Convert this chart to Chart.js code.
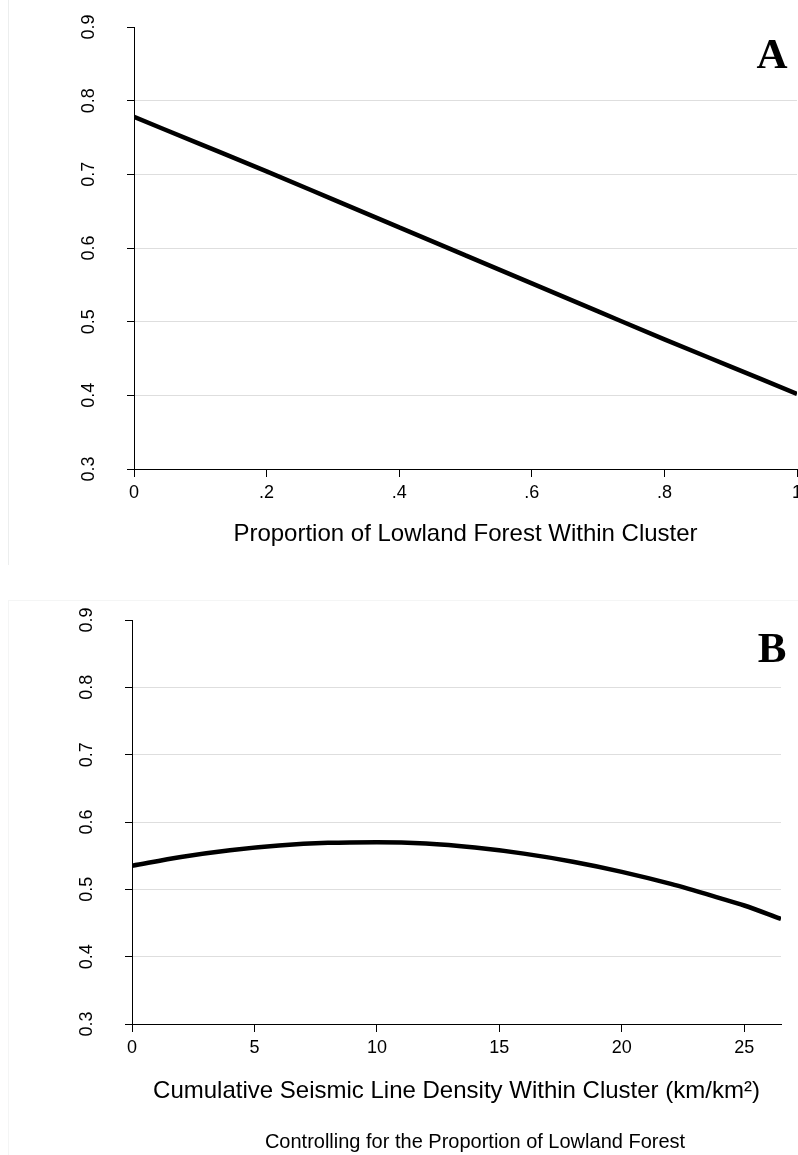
<!DOCTYPE html>
<html>
<head>
<meta charset="utf-8">
<script src="https://cdn.jsdelivr.net/npm/chart.js@4.4.0/dist/chart.umd.min.js"></script>
<style>
    body { margin: 0; background: #fff; width: 798px; height: 1155px; position: relative; overflow: hidden; }
    .frame { position: absolute; left: 8px; width: 789px; }
    #frameA { top: 0; height: 565px; border-left: 1px solid #eceeee; }
    #frameB { top: 600px; height: 555px; border-left: 1px solid #f4f5f5; border-top: 1px solid #f4f5f5; }
    canvas { position: absolute; left: 0; }
    #chartA { top: 0; }
    #chartB { top: 595px; }
</style>
</head>
<body>
<div class="frame" id="frameA"></div>
<div class="frame" id="frameB"></div>
<canvas id="chartA" width="798" height="570"></canvas>
<canvas id="chartB" width="798" height="560"></canvas>
<script>
// Panel A: proportion of lowland forest
const xA = [0, 0.1, 0.2, 0.3, 0.4, 0.5, 0.6, 0.7, 0.8, 0.9, 1];
const yA = [0.778, 0.741, 0.704, 0.666, 0.628, 0.590, 0.552, 0.514, 0.476, 0.439, 0.402];
const xTicksA = [0, 0.2, 0.4, 0.6, 0.8, 1];
const xTickLabelsA = ['0', '.2', '.4', '.6', '.8', '1'];

// Panel B: seismic line density
const xB = [0, 2, 4, 6, 8, 10, 12, 14, 16, 18, 20, 22, 24, 25, 26.5];
const yB = [0.535, 0.548, 0.558, 0.565, 0.569, 0.570, 0.568, 0.562, 0.553, 0.541, 0.526, 0.508, 0.487, 0.476, 0.456];
const xTicksB = [0, 5, 10, 15, 20, 25];
const xTickLabelsB = ['0', '5', '10', '15', '20', '25'];

// shared y axis
const yTicks = [0.3, 0.4, 0.5, 0.6, 0.7, 0.8, 0.9];
const yTickLabels = ['0.3', '0.4', '0.5', '0.6', '0.7', '0.8', '0.9'];

const SANS = "'Liberation Sans', Arial, sans-serif";

// rotated y tick labels, panel letter and optional note under the axis title
const panelPlugin = {
    id: 'panelLabel',
    afterDraw(chart, args, opts) {
        const ctx = chart.ctx;
        const y = chart.scales.y;
        ctx.save();
        ctx.fillStyle = '#000';
        ctx.font = '18px ' + SANS;
        ctx.textAlign = 'center';
        ctx.textBaseline = 'middle';
        yTicks.forEach((v, i) => {
            ctx.save();
            ctx.translate(y.right - 45, y.getPixelForValue(v));
            ctx.rotate(-Math.PI / 2);
            ctx.fillText(yTickLabels[i], 0, 0);
            ctx.restore();
        });
        if (opts.note) {
            ctx.font = '20px ' + SANS;
            ctx.fillText(opts.note, opts.noteX, opts.noteY);
        }
        ctx.font = "bold 43px 'Liberation Serif', 'Times New Roman', serif";
        ctx.fillText(opts.text, opts.x, opts.y);
        ctx.restore();
    }
};

function makeChart(id, xs, ys, xTicks, xLabels, cfg) {
    return new Chart(document.getElementById(id), {
        type: 'line',
        data: {
            datasets: [{
                data: xs.map((x, i) => ({ x: x, y: ys[i] })),
                borderColor: '#000',
                borderWidth: 4.5,
                pointRadius: 0,
                cubicInterpolationMode: 'monotone',
                fill: false
            }]
        },
        options: {
            responsive: false,
            animation: false,
            layout: { padding: { top: cfg.top, right: cfg.right, left: 0, bottom: cfg.bottom } },
            plugins: {
                legend: { display: false },
                tooltip: { enabled: false },
                title: { display: false },
                panelLabel: {
                    text: cfg.letter, x: 772, y: cfg.letterY,
                    note: cfg.note, noteX: 475, noteY: 547
                }
            },
            scales: {
                x: {
                    type: 'linear',
                    min: xTicks[0],
                    max: cfg.xMax,
                    afterBuildTicks: s => { s.ticks = xTicks.map(v => ({ value: v })); },
                    afterFit: s => { s.height = cfg.xHeight; s.paddingLeft = 0; s.paddingRight = 0; },
                    grid: { drawOnChartArea: false, tickLength: 8, tickColor: '#000' },
                    border: { display: true, color: '#000', width: 1 },
                    ticks: {
                        autoSkip: false,
                        maxRotation: 0,
                        padding: 5,
                        color: '#000',
                        font: { family: SANS, size: 18 },
                        callback: (v, i) => xLabels[i]
                    },
                    title: {
                        display: true,
                        text: cfg.xTitle,
                        color: '#000',
                        font: { family: SANS, size: 24 },
                        padding: { top: 0, bottom: cfg.titlePad }
                    }
                },
                y: {
                    min: 0.3,
                    max: 0.9,
                    afterBuildTicks: s => { s.ticks = yTicks.map(v => ({ value: v })); },
                    afterFit: s => { s.width = cfg.yWidth; s.paddingTop = 0; s.paddingBottom = 0; },
                    grid: {
                        tickLength: 7,
                        tickColor: '#000',
                        color: c => (c.tick && c.tick.value > 0.31 && c.tick.value < 0.89) ? '#dedede' : 'rgba(0,0,0,0)'
                    },
                    border: { display: true, color: '#000', width: 1 },
                    ticks: { display: false }
                }
            }
        },
        plugins: [panelPlugin]
    });
}

makeChart('chartA', xA, yA, xTicksA, xTickLabelsA, {
    top: 27, right: 1, bottom: 0, xMax: 1, xHeight: 101, titlePad: 21, yWidth: 134,
    xTitle: 'Proportion of Lowland Forest Within Cluster',
    letter: 'A', letterY: 57
});

makeChart('chartB', xB, yB, xTicksB, xTickLabelsB, {
    top: 25, right: 17, bottom: 31, xMax: 26.5, xHeight: 100, titlePad: 18, yWidth: 132,
    xTitle: 'Cumulative Seismic Line Density Within Cluster (km/km\u00B2)',
    note: 'Controlling for the Proportion of Lowland Forest',
    letter: 'B', letterY: 56
});
</script>
</body>
</html>
